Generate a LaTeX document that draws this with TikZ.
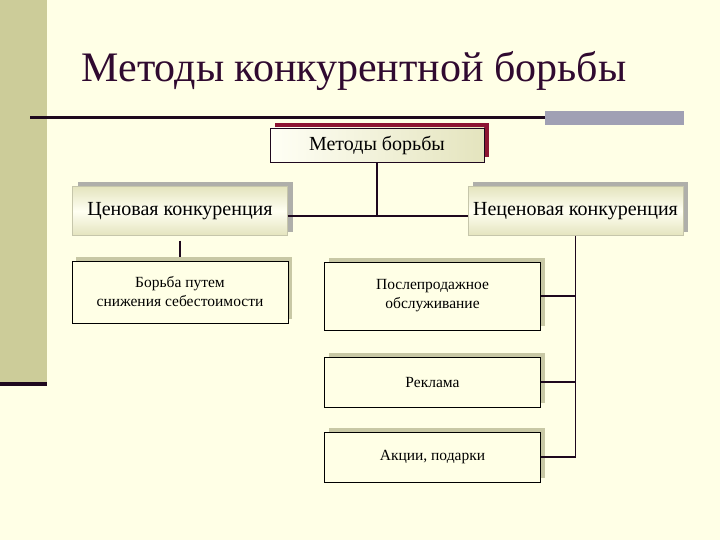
\documentclass[tikz,border=0pt]{standalone}
\usepackage{fontspec}
\setmainfont{Liberation Serif}
\usetikzlibrary{shadows}

\definecolor{bgcream}{RGB}{255,255,230}
\definecolor{stripolive}{RGB}{204,204,153}
\definecolor{titleplum}{RGB}{48,10,48}
\definecolor{darkline}{RGB}{30,8,30}
\definecolor{barslate}{RGB}{160,160,180}
\definecolor{maroonsh}{RGB}{140,20,50}
\definecolor{boxbeige}{RGB}{228,228,190}
\definecolor{shgray}{RGB}{175,175,170}
\definecolor{sholive}{RGB}{200,200,165}

\tikzset{
  topbox/.style={draw=darkline,line width=0.6pt,inner sep=0pt,
    minimum width=214pt,minimum height=34pt,
    left color=bgcream!40!white,right color=boxbeige,
    general shadow={fill=maroonsh,shadow xshift=5pt,shadow yshift=5pt},
    font=\fontsize{20}{24}\selectfont},
  kindbox/.style={draw=boxbeige!70!gray,line width=0.4pt,inner sep=0pt,
    minimum width=215pt,minimum height=49pt,
    top color=boxbeige,bottom color=boxbeige,middle color=bgcream!50!white,
    general shadow={fill=shgray,shadow xshift=5pt,shadow yshift=4pt},
    font=\fontsize{20}{24}\selectfont},
  waybox/.style={draw=black,line width=0.8pt,inner sep=0pt,fill=bgcream,
    minimum width=216pt,align=center,
    general shadow={fill=sholive,shadow xshift=4pt,shadow yshift=4pt},
    font=\fontsize{15.5}{19}\selectfont},
  link/.style={draw=darkline,line width=1.8pt}
}

\begin{document}
\begin{tikzpicture}[x=1pt,y=-1pt]
% ---------- фон ----------
\fill[bgcream] (0,0) rectangle (720,540);
\useasboundingbox (0,0) rectangle (720,540);
\fill[stripolive] (0,0) rectangle (47,382);
\fill[darkline] (0,382) rectangle (47,386);
% ---------- заголовок ----------
\node[anchor=base,text=titleplum,inner sep=0pt,
  font=\fontsize{42}{48}\selectfont] (title) at (354,82) {Методы конкурентной борьбы};
\fill[darkline] (30,116.5) rectangle (545,119.5);
\fill[barslate] (545,111) rectangle (684,125);
% ---------- блоки ----------
\node[topbox] (metody) at (377,145) {Методы борьбы};
\node[kindbox] (cena) at (180,211) {Ценовая конкуренция};
\node[kindbox] (necena) at (575.5,211) {Неценовая конкуренция};
\node[waybox,minimum height=62pt] (borba) at (180,292)
  {Борьба путем\\снижения себестоимости};
\node[waybox,minimum height=68pt] (servis) at (432.5,296)
  {Послепродажное\\обслуживание};
\node[waybox,minimum height=50pt] (reklama) at (432.5,382) {Реклама};
\node[waybox,minimum height=50pt] (akcii) at (432.5,457) {Акции, подарки};
% ---------- связи ----------
\coordinate (split) at (377,216);
\draw[link] (metody.south) -- (split);
\draw[link] (cena.east |- split) -- (necena.west |- split);
\draw[link,shorten <=5pt,shorten >=4pt] (cena.south) -- (borba.north);
\draw[link] (necena.south) |- (akcii.east);
\draw[link] (necena.south |- servis.east) -- (servis.east);
\draw[link] (necena.south |- reklama.east) -- (reklama.east);
\end{tikzpicture}
\end{document}
